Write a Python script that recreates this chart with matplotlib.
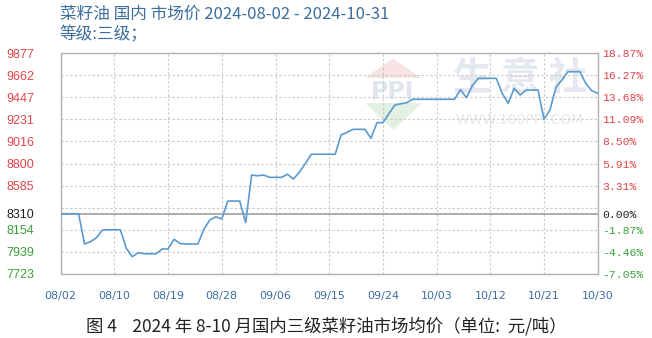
import matplotlib
matplotlib.use("Agg")
import matplotlib.pyplot as plt
from matplotlib.patches import Polygon

# ---- data ----
day_offsets = list(range(0, 91))
prices = [
    8310, 8310, 8310, 8310, 8015, 8038, 8077, 8152, 8154, 8154,
    8154, 7973, 7892, 7931, 7920, 7920, 7920, 7967, 7967, 8061,
    8020, 8015, 8015, 8015, 8160, 8250, 8281, 8259, 8434, 8434,
    8434, 8223, 8688, 8680, 8688, 8665, 8665, 8665, 8695, 8649,
    8714, 8800, 8890, 8890, 8890, 8890, 8890, 9078, 9104, 9133,
    9133, 9133, 9045, 9198, 9198, 9285, 9370, 9382, 9393, 9426,
    9426, 9426, 9426, 9426, 9426, 9426, 9426, 9520, 9440, 9560,
    9630, 9630, 9630, 9630, 9484, 9387, 9533, 9468, 9516, 9516,
    9516, 9231, 9322, 9543, 9614, 9695, 9695, 9695, 9581, 9510,
    9484,
]
base_price = 8310
x_tick_pos = [0, 9, 18, 27, 36, 45, 54, 63, 72, 81, 90]
x_tick_labels = ["08/02", "08/10", "08/19", "08/28", "09/06", "09/15",
                 "09/24", "10/03", "10/12", "10/21", "10/30"]
grid_values = [7723, 7939, 8154, 8370, 8585, 8800, 9016, 9231, 9447, 9662, 9877]
left_tick_values = [7723, 7939, 8154, 8310, 8585, 8800, 9016, 9231, 9447, 9662, 9877]
right_tick_labels = ["-7.05%", "-4.46%", "-1.87%", "0.00%", "3.31%", "5.91%",
                     "8.50%", "11.09%", "13.68%", "16.27%", "18.87%"]
title_line1 = "菜籽油 国内 市场价 2024-08-02 - 2024-10-31"
title_line2 = "等级:三级；"
caption = "图 4    2024 年 8-10 月国内三级菜籽油市场均价（单位:  元/吨）"

RED = "#e0464b"
GREEN = "#3aa03a"
BLACK = "#222222"
BLUE_TXT = "#3d6e9e"
LINE = "#5a9ad0"

fig = plt.figure(figsize=(6.52, 3.38), dpi=100)
ax = fig.add_axes([60.7 / 652, (338 - 274) / 338, 537 / 652, 221 / 338])

ymin, ymax = grid_values[0], grid_values[-1]
ax.set_xlim(0, 90)
ax.set_ylim(ymin, ymax)

# grid
for g in grid_values:
    ax.axhline(g, color="#c8c8c8", lw=0.8, ls=(0, (2, 2)), zorder=1)
for xp in x_tick_pos:
    ax.axvline(xp, color="#c8c8c8", lw=0.8, ls=(0, (2, 2)), zorder=1)
ax.axhline(base_price, color="#a0a0a0", lw=1.2, zorder=2)

# watermark
ax.add_patch(Polygon([(0.5667, 0.8869), (0.6189, 0.975), (0.6710, 0.8869)],
                     closed=True, transform=ax.transAxes, facecolor="#f7e3e3",
                     edgecolor="none", zorder=0))
ax.add_patch(Polygon([(0.5667, 0.7738), (0.6728, 0.7738), (0.6189, 0.6516)],
                     closed=True, transform=ax.transAxes, facecolor="#e2f2e2",
                     edgecolor="none", zorder=0))
ax.text(0.6189, 0.822, "PPI", transform=ax.transAxes, fontsize=17,
        family=["DejaVu Sans"], color="#e0e5ee", ha="center", va="center",
        zorder=0, fontweight="bold")
ax.text(0.855, 0.885, "生 意 社", transform=ax.transAxes, fontsize=28,
        family=["Noto Sans CJK SC"], color="#e5e9ef", ha="center", va="center",
        zorder=0, fontweight="bold")
ax.text(0.855, 0.697, "WWW.100PPI.COM", transform=ax.transAxes, fontsize=10,
        family=["DejaVu Sans"], color="#e6e8ec", ha="center", va="center", zorder=0)

ax.plot(day_offsets, prices, color=LINE, lw=1.2, zorder=3)

for s in ax.spines.values():
    s.set_color("#b0b0b0")
    s.set_linewidth(1.0)

ax.set_xticks(x_tick_pos)
ax.set_xticklabels(x_tick_labels, fontsize=8, color=BLUE_TXT, family="DejaVu Sans")
ax.tick_params(axis="x", length=0, pad=12)

def colr(v):
    if v > base_price:
        return RED
    if v < base_price:
        return GREEN
    return BLACK

ax.set_yticks(left_tick_values)
ax.set_yticklabels([str(v) for v in left_tick_values], fontsize=9,
                   family="Liberation Sans")
ax.tick_params(axis="y", length=0, pad=19)
for lbl, v in zip(ax.get_yticklabels(), left_tick_values):
    lbl.set_color(colr(v))

ax2 = ax.twinx()
ax2.set_ylim(ymin, ymax)
ax2.set_yticks(left_tick_values)
ax2.set_yticklabels(right_tick_labels, fontsize=8.2, family="Liberation Mono")
ax2.tick_params(axis="y", length=0, pad=3.5)
for lbl, v in zip(ax2.get_yticklabels(), left_tick_values):
    lbl.set_color(colr(v))
for s in ax2.spines.values():
    s.set_visible(False)

fig.text(60 / 652, 1 - 14 / 338, title_line1, fontsize=12, color=BLUE_TXT,
         family=["Noto Sans CJK SC", "DejaVu Sans"], ha="left", va="center")
fig.text(60 / 652, 1 - 35 / 338, title_line2, fontsize=12, color=BLUE_TXT,
         family=["Noto Sans CJK SC", "DejaVu Sans"], ha="left", va="center")
fig.text(326 / 652, 1 - 326 / 338, caption, fontsize=12.5, color="#222222",
         family=["Noto Sans CJK SC", "DejaVu Sans"], ha="center", va="center")

fig.savefig("out.png", dpi=100, facecolor="white")
